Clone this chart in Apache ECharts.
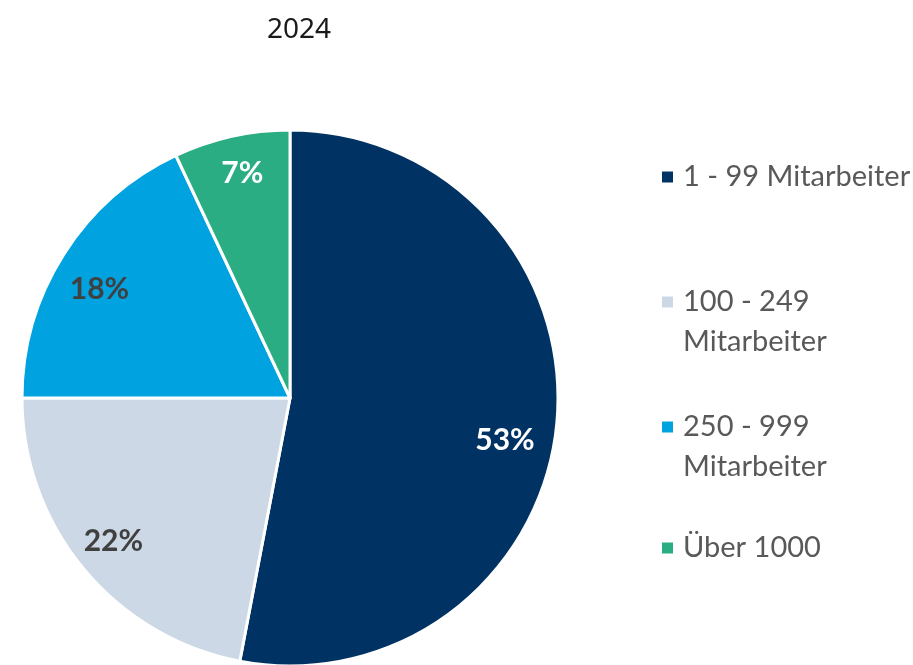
<!DOCTYPE html>
<html>
<head>
<meta charset="utf-8">
<script src="https://cdn.jsdelivr.net/npm/echarts@6/dist/echarts.min.js"></script>
<style>
  html, body { margin: 0; padding: 0; background: #fff; }
  #chart { width: 913px; height: 665px; }
</style>
</head>
<body>
<div id="chart"></div>
<script>
// Unternehmensgröße 2024
const title = "2024";
const categories = ["1 - 99 Mitarbeiter", "100 - 249 Mitarbeiter", "250 - 999 Mitarbeiter", "Über 1000"];
const shares = [53, 22, 18, 7];

const sliceColors = ["#003263", "#cdd8e6", "#00a3e0", "#2aad82"];
const labelColors = ["#ffffff", "#404040", "#404040", "#ffffff"];
// small nudges so labels sit where the original put them
const labelOffsets = [[-12, 21], [-1, -2], [2, 13], [2, -2]];

const center = [290, 398];
const legendTops = [152, 237, 362, 523];

const chart = echarts.init(document.getElementById("chart"));

const legends = categories.map((name, i) => {
  const twoLines = name.length > 19;
  return {
    data: [name],
    left: 655,
    top: legendTops[i],
    orient: "vertical",
    icon: "rect",
    itemWidth: 13,
    itemHeight: 13,
    selectedMode: false,
    // a blank first line keeps the icon level with the first real line
    formatter: n => (twoLines ? " \n" + n.replace(" Mitarbeiter", "\nMitarbeiter") : n),
    textStyle: {
      fontFamily: "Lato",
      fontSize: 29,
      color: "#595959",
      lineHeight: 40,
      padding: [0, 0, 0, 4]
    }
  };
});

const option = {
  animation: false,
  title: {
    text: title,
    left: 294,
    top: 11,
    textAlign: "center",
    textStyle: {
      fontFamily: "Noto Sans",
      fontSize: 28,
      fontWeight: "normal",
      color: "#1a1a1a"
    }
  },
  legend: legends,
  series: [
    {
      type: "pie",
      center: center,
      radius: 268,
      startAngle: 90,
      clockwise: true,
      silent: true,
      label: { show: false },
      labelLine: { show: false },
      itemStyle: { borderColor: "#ffffff", borderWidth: 3 },
      data: categories.map((name, i) => ({
        name: name,
        value: shares[i],
        itemStyle: { color: sliceColors[i] }
      }))
    },
    {
      // transparent ring only used to place the labels further out
      type: "pie",
      center: center,
      radius: [182, 268],
      startAngle: 90,
      clockwise: true,
      silent: true,
      itemStyle: { color: "rgba(0,0,0,0)", borderWidth: 0 },
      labelLine: { show: false },
      label: {
        show: true,
        position: "inside",
        fontFamily: "Lato",
        fontWeight: "bold",
        fontSize: 30,
        formatter: p => p.value + "%"
      },
      data: categories.map((name, i) => ({
        name: name,
        value: shares[i],
        label: { color: labelColors[i], offset: labelOffsets[i] }
      }))
    }
  ]
};

chart.setOption(option);
</script>
</body>
</html>
